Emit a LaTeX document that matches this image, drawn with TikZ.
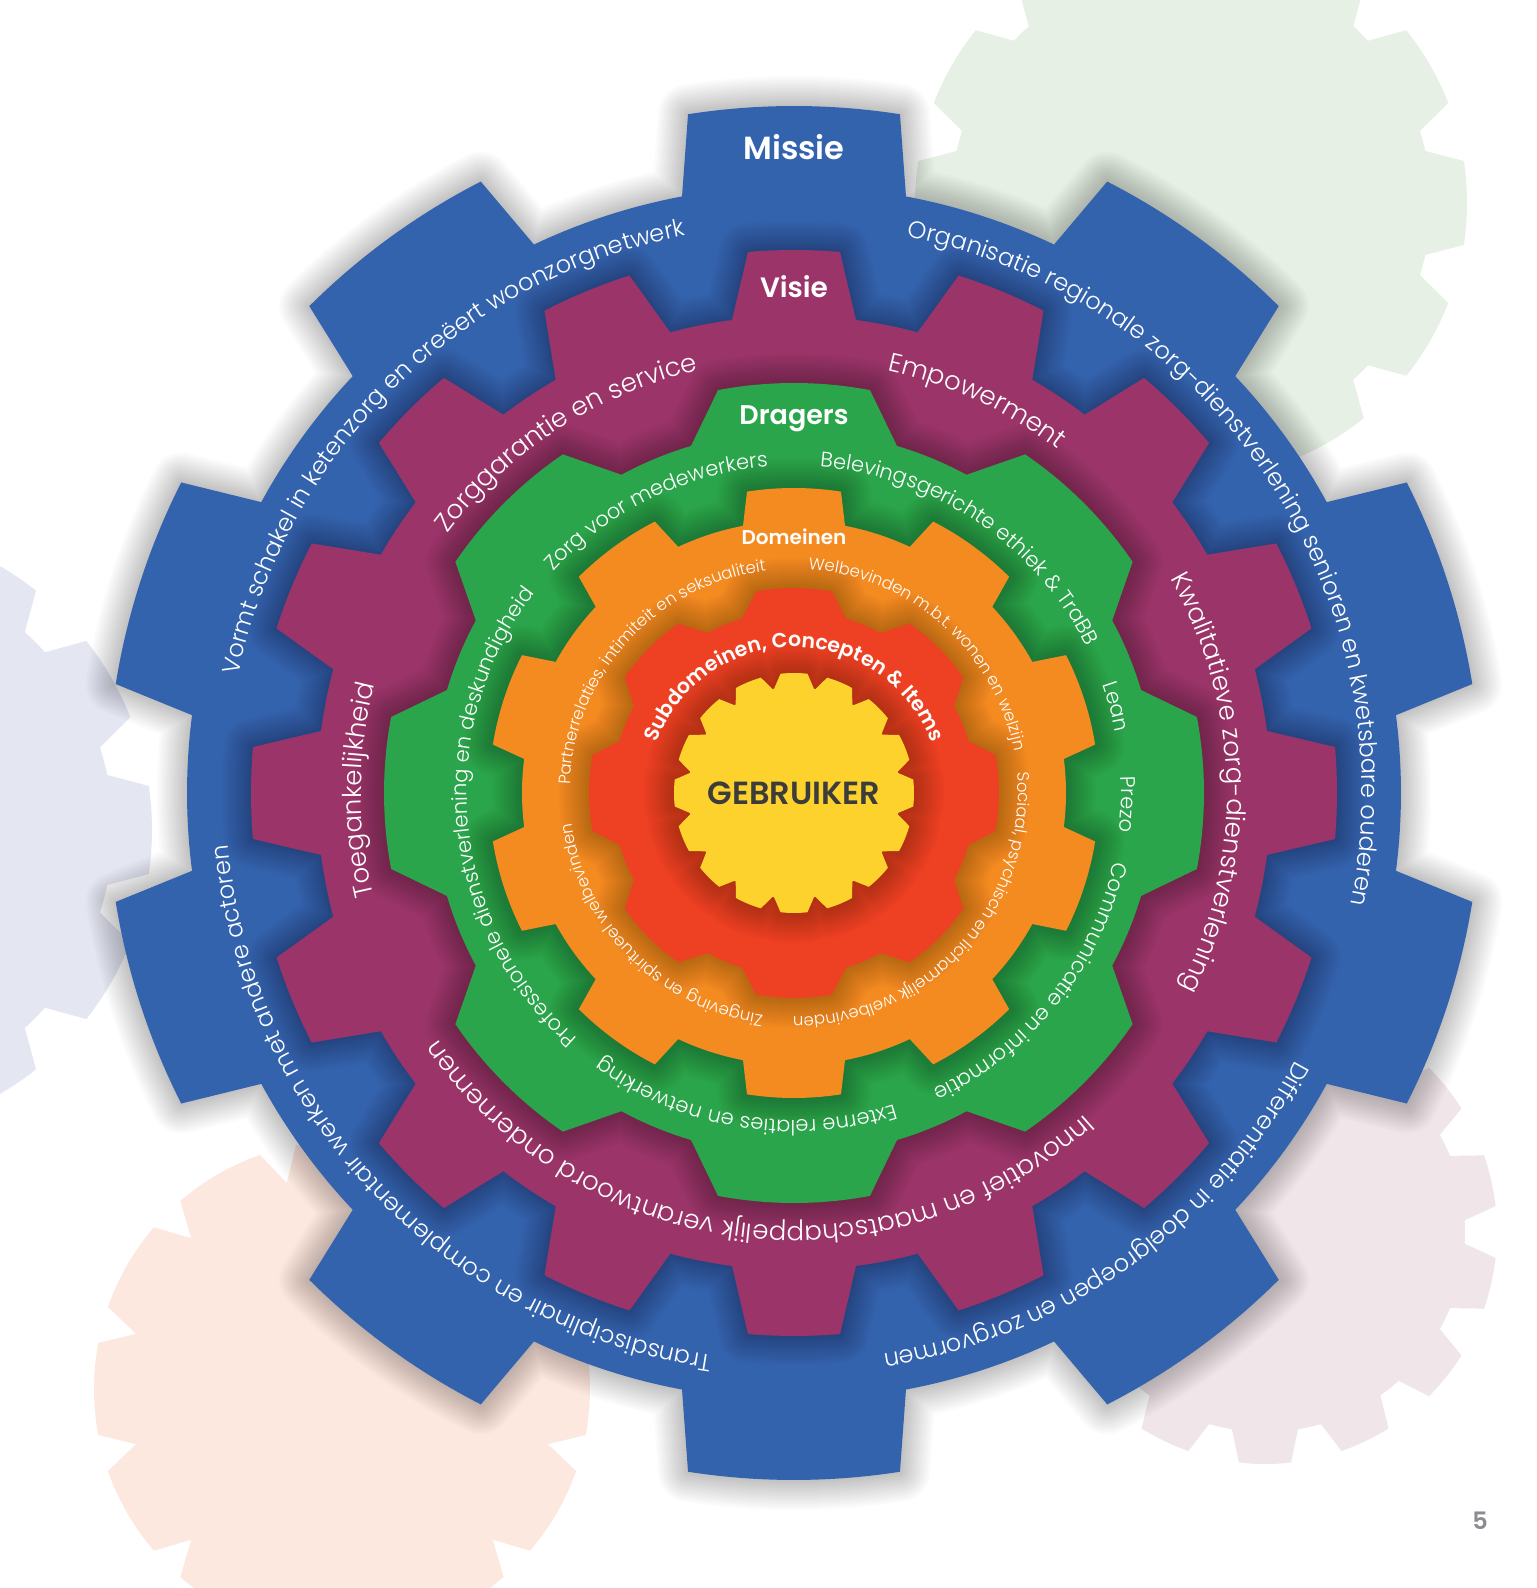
\documentclass[tikz,border=0pt]{standalone}
\usepackage{fontspec}
\usetikzlibrary{calc,decorations.text}
\IfFontExistsTF{Poppins Light}{\newfontfamily\ringfont{Poppins Light}}{%
  \IfFontExistsTF{Lato Light}{\newfontfamily\ringfont{Lato Light}}{\newfontfamily\ringfont{Poppins}}}
\IfFontExistsTF{Poppins SemiBold}{\newfontfamily\labelfont{Poppins SemiBold}}{%
  \IfFontExistsTF{Poppins Bold}{\newfontfamily\labelfont{Poppins Bold}}{\newfontfamily\labelfont{Poppins}[FakeBold=1.5]}}

\definecolor{missie}{HTML}{3463AE}
\definecolor{visie}{HTML}{9B3469}
\definecolor{dragers}{HTML}{2BA54B}
\definecolor{domeinen}{HTML}{F48B21}
\definecolor{subdomein}{HTML}{EE4023}
\definecolor{gebruiker}{HTML}{FDD22D}
\definecolor{ink}{HTML}{3C3C3B}
\definecolor{bggreen}{HTML}{E6F0E5}
\definecolor{bglilac}{HTML}{E4E6F2}
\definecolor{bgpeach}{HTML}{FCE8DE}
\definecolor{bgpink}{HTML}{F0E5E9}
\definecolor{pagegray}{HTML}{8C8B90}

\tikzset{
  title/.style={text=white, inner sep=0pt, font=\labelfont\fontsize{#1}{#1}\selectfont},
  gearshade/.style={draw=black, line width=#1, opacity=0.016, line join=round},
}

% gear outline: center, teeth, tip radius, root radius, tip half width, base half width, phase, options
\newcommand{\gear}[8]{%
  \pgfmathsetmacro\gstep{360/#2}%
  \pgfmathsetmacro\gtip{asin(#5/#3)}%
  \pgfmathsetmacro\groot{asin(#6/#4)}%
  \pgfmathtruncatemacro\glast{#2-1}%
  \path[shift={(#1)}, #8] (#7-\groot:#4)
    \foreach \k in {0,...,\glast}{
      -- ({#7+\k*\gstep-\gtip}:#3)
      arc[start angle={#7+\k*\gstep-\gtip}, end angle={#7+\k*\gstep+\gtip}, radius=#3]
      -- ({#7+\k*\gstep+\groot}:#4)
      arc[start angle={#7+\k*\gstep+\groot}, end angle={#7+(\k+1)*\gstep-\groot}, radius=#4]
    } -- cycle;%
}
\newcommand{\shadedgear}[8]{%
  \foreach \w in {4,8,...,60}{\gear{#1}{#2}{#3}{#4}{#5}{#6}{#7}{gearshade=\w}}%
  \gear{#1}{#2}{#3}{#4}{#5}{#6}{#7}{fill=#8}%
}
% text on a ring: radius, middle angle, half span, font, text
\newcommand{\ringtext}[5]{%
  \path[decorate, decoration={text along path, text align=center, text color=white,
      text={|#4|#5}}]
    ($(C)+(#2+#3:#1)$) arc[start angle=#2+#3, end angle=#2-#3, radius=#1];%
}

\begin{document}
\begin{tikzpicture}[x=1pt, y=1pt]
  \useasboundingbox (0,0) rectangle (1537,1588);
  \clip (0,0) rectangle (1537,1588);
  \fill[white] (0,0) rectangle (1537,1588);
  \coordinate (C) at (794,795);

  % faint gears behind
  \gear{1191,1385}{12}{276}{240}{42}{52}{0}{fill=bggreen}
  \gear{-153,758}{12}{305}{266}{44}{55}{0}{fill=bglilac}
  \gear{342,199}{12}{248}{210}{46}{56}{0}{fill=bgpeach}
  \gear{1265,356}{14}{232}{200}{26}{33}{-90}{fill=bgpink}

  % main gears
  \shadedgear{794,795}{10}{687}{607}{106}{112}{90}{missie}
  \shadedgear{794,795}{16}{543}{477}{46}{62}{90}{visie}
  \shadedgear{794,795}{8}{410}{362}{76}{103}{90}{dragers}
  \shadedgear{794,795}{10}{305}{272}{47}{51}{90}{domeinen}
  \shadedgear{794,795}{8}{205}{182}{38}{52}{90}{subdomein}
  \shadedgear{794,795}{16}{120}{106}{13.5}{20}{90}{gebruiker}

  \node (missielbl) at ($(C)+(0,646)$) [title=32] {Missie};
  \node (visielbl) at ($(C)+(0,506)$) [title=28] {Visie};
  \node (dragerslbl) at ($(C)+(0,374)$) [title=27] {Dragers};
  \node (domeinenlbl) at ($(C)+(0,256)$) [title=20] {Domeinen};
  \node (gebruikerlbl) at (C) [title=32, text=ink] {GEBRUIKER};

  % Missie
  \ringtext{568}{33.6}{85}{\ringfont\fontsize{24}{24}\selectfont}{Organisatie regionale zorg-dienstverlening senioren en kwetsbare ouderen}
  \ringtext{568}{134.5}{60}{\ringfont\fontsize{24}{24}\selectfont}{Vormt schakel in ketenzorg en creëert woonzorgnetwerk}
  \ringtext{568}{223.5}{70}{\ringfont\fontsize{24}{24}\selectfont}{Transdisciplinair en complementair werken met andere actoren}
  \ringtext{568}{-54.5}{50}{\ringfont\fontsize{24}{24}\selectfont}{Differentiatie in doelgroepen en zorgvormen}
  % Visie
  \ringtext{433}{65}{30}{\ringfont\fontsize{26}{26}\selectfont}{Empowerment}
  \ringtext{433}{1.5}{45}{\ringfont\fontsize{26}{26}\selectfont}{Kwalitatieve zorg-dienstverlening}
  \ringtext{433}{-96.6}{70}{\ringfont\fontsize{26}{26}\selectfont}{Innovatief en maatschappelijk verantwoord ondernemen}
  \ringtext{433}{179.6}{30}{\ringfont\fontsize{26}{26}\selectfont}{Toegankelijkheid}
  \ringtext{433}{123}{40}{\ringfont\fontsize{26}{26}\selectfont}{Zorggarantie en service}
  % Dragers
  \ringtext{327}{56}{45}{\ringfont\fontsize{21}{21}\selectfont}{Belevingsgerichte ethiek {\&} TraBB}
  \ringtext{327}{15}{15}{\ringfont\fontsize{21}{21}\selectfont}{Lean}
  \ringtext{327}{-2}{15}{\ringfont\fontsize{21}{21}\selectfont}{Prezo}
  \ringtext{327}{-38.5}{40}{\ringfont\fontsize{21}{21}\selectfont}{Communicatie en informatie}
  \ringtext{327}{-99}{40}{\ringfont\fontsize{21}{21}\selectfont}{Externe relaties en netwerking}
  \ringtext{327}{185.5}{60}{\ringfont\fontsize{21}{21}\selectfont}{Professionele dienstverlening en deskundigheid}
  \ringtext{327}{116}{30}{\ringfont\fontsize{21}{21}\selectfont}{Zorg voor medewerkers}
  % Domeinen
  \ringtext{224}{48.5}{60}{\ringfont\fontsize{16.5}{16.5}\selectfont}{Welbevinden m.b.t. wonen en welzijn}
  \ringtext{224}{-42.5}{70}{\ringfont\fontsize{16.5}{16.5}\selectfont}{Sociaal, psychisch en lichamelijk welbevinden}
  \ringtext{224}{225}{60}{\ringfont\fontsize{16.5}{16.5}\selectfont}{Zingeving en spiritueel welbevinden}
  \ringtext{224}{137.5}{60}{\ringfont\fontsize{16.5}{16.5}\selectfont}{Partnerrelaties, intimiteit en seksualiteit}
  % Subdomeinen
  \ringtext{146}{90}{85}{\labelfont\fontsize{20.5}{20.5}\selectfont}{Subdomeinen, Concepten {\&} Items}

  \node (pagenr) at (1480,67) [font=\labelfont\fontsize{24}{24}\selectfont, text=pagegray] {5};
\end{tikzpicture}
\end{document}
